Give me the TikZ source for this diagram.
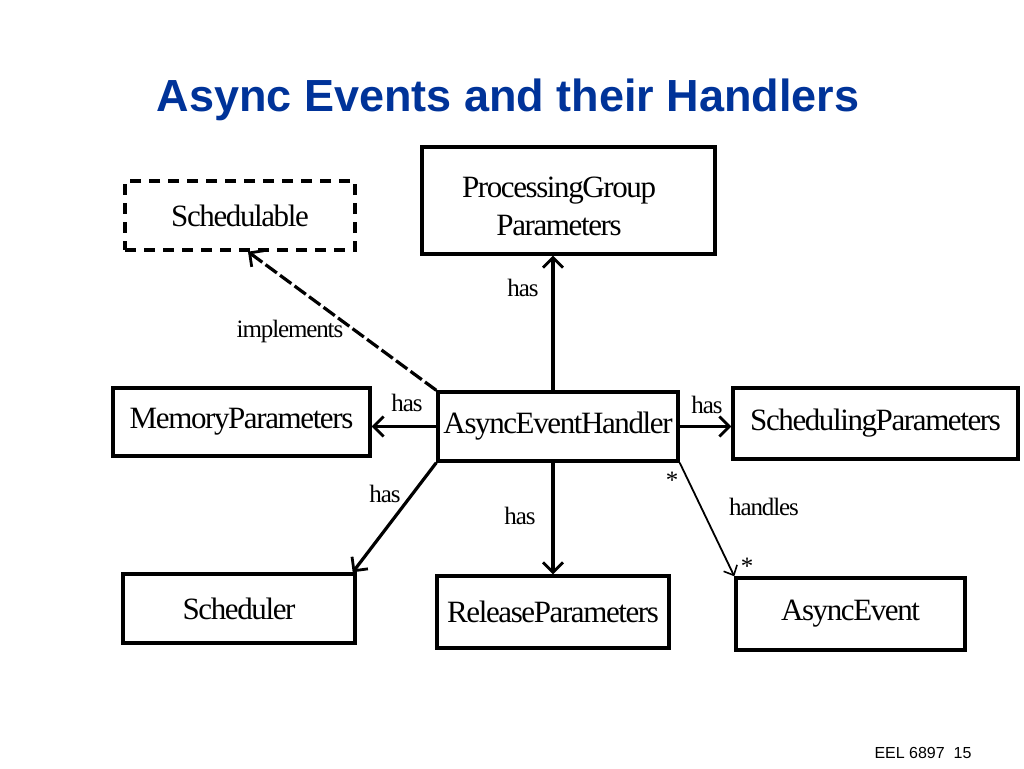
\documentclass[tikz,border=0pt]{standalone}
\usepackage{fontspec}
\setmainfont{Liberation Serif}
\newfontfamily\tightserif[LetterSpace=-4.5]{Liberation Serif}
\newfontfamily\arialfont{Liberation Sans}
\usetikzlibrary{arrows.meta}
\definecolor{titleblue}{RGB}{0,51,153}
\begin{document}
\begin{tikzpicture}[x=1pt,y=-1pt,
 box/.style={draw,line width=3.4pt,inner sep=0pt,font=\tightserif\fontsize{31}{38}\selectfont,align=center},
 conn/.style={line width=3.2pt,-{Straight Barb[length=10pt,width=20pt,line width=2.8pt]}},
 thinconn/.style={line width=1.8pt,-{Straight Barb[length=8pt,width=15pt,line width=1.6pt]}},
 lbl/.style={font=\tightserif\fontsize{25}{28}\selectfont,inner sep=0pt}]
\useasboundingbox (0,0) rectangle (1024,768);
\fill[white] (0,0) rectangle (1024,768);
% title
\node[font=\arialfont\bfseries\fontsize{45}{50}\selectfont,text=titleblue] (title) at (508,100) {Async Events and their Handlers};
% boxes
\node[box,dash pattern=on 11pt off 8pt,minimum width=230pt,minimum height=69pt] (sch) at (240,215.5) {Schedulable};
\node[box,minimum width=293pt,minimum height=107pt] (pg) at (568.5,200.5) {};
\node[font=\tightserif\fontsize{31}{38}\selectfont,align=center] (pgtext) at (559,206) {ProcessingGroup\\Parameters};
\node[box,minimum width=257pt,minimum height=68pt] (mem) at (241.5,422) {MemoryParameters};
\node[box,minimum width=240pt,minimum height=69pt] (aeh) at (558,426.5) {AsyncEventHandler};
\node[box,minimum width=285pt,minimum height=71pt] (spar) at (875.5,423.5) {SchedulingParameters};
\node[box,minimum width=232pt,minimum height=69pt] (sched) at (239,608.5) {Scheduler};
\node[box,minimum width=232pt,minimum height=72pt] (rel) at (553,612) {ReleaseParameters};
\node[box,minimum width=229pt,minimum height=72pt] (ae) at (850.5,614) {AsyncEvent};
% connectors
\draw[conn,dash pattern=on 14pt off 4pt] (aeh.north west) -- ([xshift=8pt]sch.south);
\draw[conn] (aeh.north -| rel.north) -- (pg.south -| rel.north);
\draw[conn] (aeh.west) -- (aeh.west -| mem.east);
\draw[conn] (aeh.east) -- (aeh.east -| spar.west);
\draw[conn] (aeh.south west) -- ([xshift=-4pt]sched.north east);
\draw[conn] (aeh.south -| rel.north) -- (rel.north);
\draw[thinconn] (aeh.south east) -- (ae.north west);
% labels
\node[lbl] (limpl) at (290,331) {implements};
\node[lbl] (lup) at (523,288) {has};
\node[lbl] (lleft) at (407,403) {has};
\node[lbl] (lright) at (707,405) {has};
\node[lbl] (lsch) at (385,494) {has};
\node[lbl] (ldown) at (520,516) {has};
\node[lbl] (lhandles) at (764,507) {handles};
\node[lbl] (m1) at (672,480) {*};
\node[lbl] (m2) at (747,566) {*};
% footer
\node[font=\arialfont\fontsize{16}{18}\selectfont] (foot) at (923,753) {EEL 6897\ \ 15};
\end{tikzpicture}
\end{document}
